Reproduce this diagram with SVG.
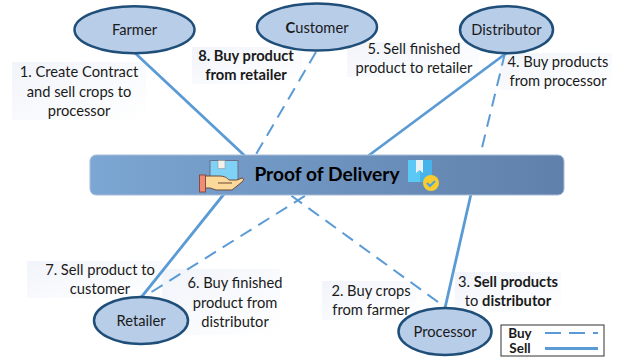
<svg xmlns="http://www.w3.org/2000/svg" width="618" height="358" viewBox="0 0 618 358">
<style>
text{font-family:"Lato","Liberation Sans",sans-serif;font-size:14.700px;fill:#1a1a1a;text-anchor:middle}
.b{font-weight:700}
.sell{stroke:#5b9bd5;stroke-width:2.800;fill:none}
.buy{stroke:#5b9bd5;stroke-width:2;fill:none;stroke-dasharray:13 8}
.node{fill:#b8cde8;stroke:#1f4e79;stroke-width:2.500}
.lbg{fill:url(#lg)}
</style>
<defs>
<linearGradient id="lg" x1="0" y1="0" x2="1" y2="1"><stop offset="0" stop-color="#f1f4fa"/><stop offset="1" stop-color="#ffffff"/></linearGradient>
<linearGradient id="bar" x1="0" y1="0" x2="1" y2="0"><stop offset="0" stop-color="#7ca6d3"/><stop offset="1" stop-color="#5f80aa"/></linearGradient>
</defs>
<rect width="618" height="358" fill="#fff"/>
<g id="label-backgrounds">
<rect class="lbg" x="12" y="62" width="134" height="58"/>
<rect class="lbg" x="192" y="47" width="110" height="37"/>
<rect class="lbg" x="347" y="42" width="132" height="35"/>
<rect class="lbg" x="500" y="53" width="112" height="37"/>
<rect class="lbg" x="27" y="261" width="135" height="37"/>
<rect class="lbg" x="162" y="269" width="118" height="66"/>
<rect class="lbg" x="322" y="281" width="94" height="39"/>
<rect class="lbg" x="455" y="272" width="106" height="40"/>
</g>
<g id="connectors">
<line class="sell" x1="135" y1="53" x2="245" y2="156"/>
<line class="buy" x1="316" y1="52" x2="255" y2="156"/>
<line class="sell" x1="506.500" y1="53" x2="368" y2="156"/>
<line class="buy" x1="505" y1="53" x2="480" y2="156"/>
<line class="sell" x1="445" y1="308" x2="471" y2="194"/>
<line class="sell" x1="141.500" y1="297" x2="224" y2="194"/>
<line class="buy" x1="151.500" y1="292" x2="308" y2="194"/>
<line class="buy" x1="438" y1="302" x2="289" y2="194"/>
</g>
<g id="proof-of-delivery">
<rect x="90" y="155" width="474" height="40" rx="6" fill="url(#bar)" stroke="#a9bdd6" stroke-width="1"/>
<text x="327" y="181" class="b" style="font-size:19.200px;fill:#000">Proof of Delivery</text>
<g id="hand-icon">
<rect x="210" y="160.500" width="28" height="23" fill="#7fd2f6" stroke="#6b6f88" stroke-width="1"/>
<rect x="218" y="160.500" width="7" height="8" fill="#f4f1ea" stroke="#8a8a95" stroke-width=".5"/>
<path d="M205 176h14c6 0 8 2 10 4h8l5-2c2 0 2 2 0 4l-10 8h-16l-6-2h-5z" fill="#fbd99a" stroke="#6b4a3a" stroke-width="1"/>
<path d="M218 183h14" stroke="#6b4a3a" stroke-width="1" fill="none"/>
<rect x="199.500" y="175" width="6" height="17" fill="#f08c74" stroke="#8a4a44" stroke-width="1"/>
</g>
<g id="package-icon">
<rect x="408" y="160" width="24" height="22" fill="#5cc8f6"/>
<rect x="420" y="160" width="12" height="22" fill="#46b4ea"/>
<path d="M416 160h7v13l-3.500-3-3.500 3z" fill="#e8f1f5"/>
<circle cx="431" cy="183" r="8" fill="#f8cc2e"/>
<path d="M427 183l3 3 5-5" fill="none" stroke="#4aa3df" stroke-width="2"/>
</g>
</g>
<g id="farmer"><ellipse class="node" cx="134.500" cy="29.700" rx="60" ry="23.500"/><text x="134.500" y="35">Farmer</text></g>
<g id="customer"><ellipse class="node" cx="317" cy="27" rx="60" ry="23.500"/><text x="317" y="33"><tspan class="b">C</tspan>ustomer</text></g>
<g id="distributor"><ellipse class="node" cx="506.500" cy="29.700" rx="46.500" ry="23.500"/><text x="506.500" y="35">Distributor</text></g>
<g id="retailer"><ellipse class="node" cx="141" cy="320.500" rx="47" ry="23.500"/><text x="141" y="326">Retailer</text></g>
<g id="processor"><ellipse class="node" cx="445" cy="331.500" rx="46.500" ry="23.500"/><text x="445" y="337">Processor</text></g>
<g id="labels">
<text x="79" y="77">1. Create Contract</text><text x="79" y="96.500">and sell crops to</text><text x="79" y="116">processor</text>
<text x="246" y="60.500" class="b">8. Buy product</text><text x="246" y="80" class="b">from retailer</text>
<text x="414" y="53.500">5. Sell finished</text><text x="414" y="72.500">product to retailer</text>
<text x="558" y="66.500">4. Buy products</text><text x="558" y="86">from processor</text>
<text x="100" y="275">7. Sell product to</text><text x="100" y="294">customer</text>
<text x="235" y="288">6. Buy finished</text><text x="235" y="307.500">product from</text><text x="235" y="326.500">distributor</text>
<text x="371" y="295.500">2. Buy crops</text><text x="371" y="315">from farmer</text>
<text x="508" y="286.500">3. <tspan class="b">Sell products</tspan></text><text x="508" y="306">to <tspan class="b">distributor</tspan></text>
</g>
<g id="legend">
<rect x="501" y="325" width="103" height="31" fill="#fff" stroke="#333" stroke-width="1"/>
<text x="520" y="338" class="b" style="font-size:13.500px">Buy</text>
<text x="520" y="353" class="b" style="font-size:13.500px">Sell</text>
<line class="buy" style="stroke-dasharray:16 8" x1="545" y1="333" x2="598" y2="333"/>
<line class="sell" style="stroke-width:3" x1="545" y1="348.500" x2="598" y2="348.500"/>
</g>
</svg>
